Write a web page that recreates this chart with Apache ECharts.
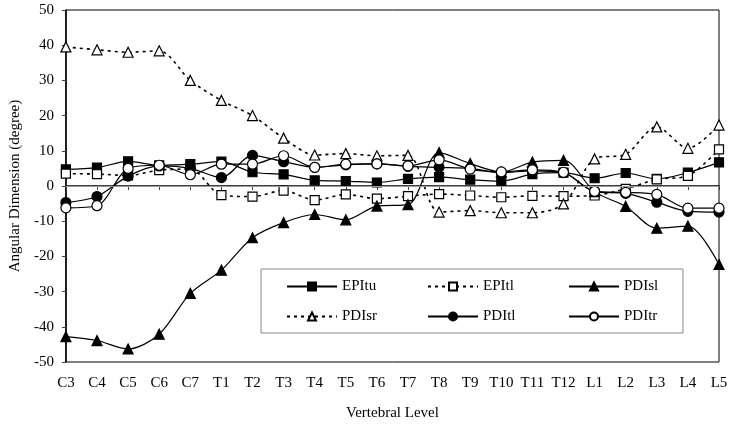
<!DOCTYPE html>
<html>
<head>
<meta charset="utf-8">
<script src="https://cdn.jsdelivr.net/npm/echarts@6/dist/echarts.min.js"></script>
<style>
html, body { margin: 0; padding: 0; background: #fff; }
#main { width: 733px; height: 426px; }
</style>
</head>
<body>
<div id="main"></div>
<script>
// vertebral levels
var levels = ['C3', 'C4', 'C5', 'C6', 'C7', 'T1', 'T2', 'T3', 'T4', 'T5', 'T6', 'T7', 'T8', 'T9', 'T10', 'T11', 'T12', 'L1', 'L2', 'L3', 'L4', 'L5'];
var yTicks = [-50, -40, -30, -20, -10, 0, 10, 20, 30, 40, 50];

// angular dimension (degree) per level
var epitu = [4.7, 5.2, 7.0, 5.9, 6.2, 6.9, 3.9, 3.3, 1.6, 1.4, 1.0, 2.0, 2.5, 1.8, 1.4, 3.4, 3.8, 2.2, 3.7, 2.0, 3.8, 6.7];
var epitl = [3.5, 3.4, 3.0, 4.5, 4.8, -2.6, -3.0, -1.3, -4.0, -2.4, -3.6, -2.9, -2.3, -2.7, -3.2, -2.8, -2.9, -2.7, -0.8, 1.9, 2.9, 10.4];
var pdisl = [-42.8, -43.9, -46.3, -42.1, -30.5, -23.9, -14.7, -10.4, -8.1, -9.6, -5.7, -5.3, 9.5, 6.4, 4.0, 6.8, 7.3, -1.6, -5.8, -12.0, -11.4, -22.3];
var pdisr = [39.5, 38.7, 38.0, 38.4, 30.0, 24.3, 20.0, 13.6, 8.8, 9.2, 8.6, 8.7, -7.4, -7.0, -7.6, -7.6, -5.1, 7.7, 9.0, 16.8, 10.7, 17.3];
var pditl = [-4.7, -3.0, 2.8, 5.7, 5.0, 2.4, 8.7, 6.9, 5.3, 6.0, 6.3, 5.6, 5.3, 5.0, 3.8, 4.3, 3.8, -1.6, -2.1, -4.6, -7.2, -7.4];
var pditr = [-6.2, -5.6, 5.0, 5.9, 3.2, 6.2, 6.2, 8.6, 5.3, 6.2, 6.3, 5.7, 7.4, 4.8, 4.0, 4.6, 3.9, -1.5, -1.8, -2.4, -6.3, -6.3];

var font = 'Liberation Serif';
var dashed = [3, 4];

function mkSeries(name, data, symbol, size, filled, dash) {
	return {
		name: name,
		type: 'line',
		data: data,
		smooth: 0.3,
		symbol: symbol,
		symbolSize: size,
		showAllSymbol: true,
		lineStyle: {
			color: '#000',
			width: dash ? 1.6 : 1.2,
			type: dash ? dashed : 'solid'
		},
		itemStyle: {
			color: filled ? '#000' : '#fff',
			borderColor: '#000',
			borderWidth: 1.2
		},
		emphasis: { disabled: true },
		animation: false
	};
}

var series = [
	mkSeries('EPItu', epitu, 'rect', 9, true, false),
	mkSeries('EPItl', epitl, 'rect', 9, false, true),
	mkSeries('PDIsl', pdisl, 'triangle', 10, true, false),
	mkSeries('PDIsr', pdisr, 'triangle', 10, false, true),
	mkSeries('PDItl', pditl, 'circle', 10, true, false),
	mkSeries('PDItr', pditr, 'circle', 10, false, false)
];
//零线
series[0].markLine = {
	silent: true,
	symbol: 'none',
	label: { show: false },
	lineStyle: { color: '#999', width: 1, type: 'solid' },
	data: [{ yAxis: 0 }]
};

// one legend per entry so the three columns line up like the original
var legendCols = [286, 427, 568];
var legendRows = [279, 309];
var legends = series.map(function(s, i) {
	return {
		data: [s.name],
		left: legendCols[i % 3],
		top: legendRows[Math.floor(i / 3)],
		padding: 0,
		itemWidth: 50,
		itemHeight: 10,
		textStyle: { fontFamily: font, fontSize: 15, color: '#000' },
		selectedMode: false
	};
});

var chart = echarts.init(document.getElementById('main'));
chart.setOption({
	backgroundColor: '#fff',
	grid: {
		left: 61,
		right: 14,
		top: 10,
		bottom: 62,
		show: true,
		borderColor: '#000',
		borderWidth: 1
	},
	legend: legends,
	graphic: [{
		type: 'rect',
		silent: true,
		shape: { x: 261, y: 269, width: 422, height: 64 },
		style: { fill: '#fff', stroke: '#888', lineWidth: 1 },
		z: 0
	}],
	xAxis: {
		type: 'category',
		data: levels,
		boundaryGap: false,
		name: 'Vertebral Level',
		nameLocation: 'middle',
		nameGap: 44,
		nameTextStyle: { fontFamily: font, fontSize: 15, color: '#000' },
		axisLine: { lineStyle: { color: '#000', width: 1.5 } },
		axisTick: { show: true, length: 4, lineStyle: { color: '#444' } },
		axisLabel: { fontFamily: font, fontSize: 15, color: '#000', margin: 14, interval: 0 },
		splitLine: { show: false }
	},
	yAxis: {
		type: 'value',
		min: yTicks[0],
		max: yTicks[yTicks.length - 1],
		interval: 10,
		name: 'Angular Dimension (degree)',
		nameLocation: 'middle',
		nameGap: 40,
		nameTextStyle: { fontFamily: font, fontSize: 15, color: '#000' },
		axisLine: { show: true, lineStyle: { color: '#000', width: 1.5 } },
		axisTick: { show: true, length: 4, lineStyle: { color: '#444' } },
		axisLabel: { fontFamily: font, fontSize: 15, color: '#000', margin: 12 },
		splitLine: { show: false }
	},
	series: series
});
</script>
</body>
</html>
